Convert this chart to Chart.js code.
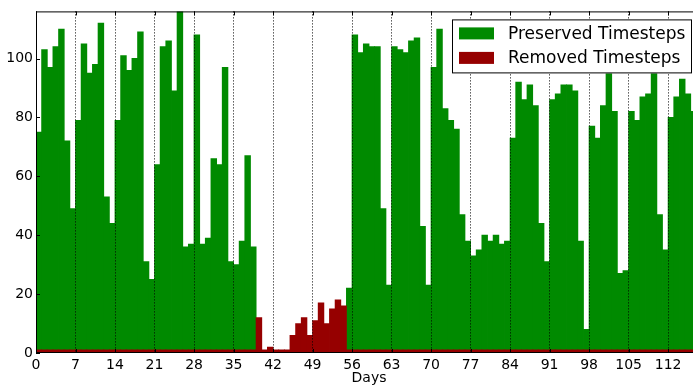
<!DOCTYPE html>
<html>
<head>
<meta charset="utf-8">
<script src="https://cdn.jsdelivr.net/npm/chart.js@4.4.0/dist/chart.umd.min.js"></script>
<style>
  html, body { margin: 0; padding: 0; background: #fff; overflow: hidden; }
  #wrap { width: 702px; height: 388px; }
</style>
</head>
<body>
<div id="wrap"><canvas id="days-chart" width="702" height="388"></canvas></div>
<script>
// Timesteps per day, index = day number
const preserved = [
  75, 103, 97, 104, 110, 72, 49, 79, 105, 95,
  98, 112, 53, 44, 79, 101, 96, 100, 109, 31,
  25, 64, 104, 106, 89, 118, 36, 37, 108, 37,
  39, 66, 64, 97, 31, 30, 38, 67, 36, 0,
  0, 0, 0, 0, 0, 0, 0, 0, 0, 0,
  0, 0, 0, 0, 0, 22, 108, 102, 105, 104,
  104, 49, 23, 104, 103, 102, 106, 107, 43, 23,
  97, 110, 83, 79, 76, 47, 38, 33, 35, 40,
  38, 40, 37, 38, 73, 92, 86, 91, 84, 44,
  31, 86, 88, 91, 91, 89, 38, 8, 77, 73,
  84, 96, 82, 27, 28, 82, 79, 87, 88, 96,
  47, 35, 80, 87, 93, 88, 82
];
const removed = [
  0, 0, 0, 0, 0, 0, 0, 0, 0, 0,
  0, 0, 0, 0, 0, 0, 0, 0, 0, 0,
  0, 0, 0, 0, 0, 0, 0, 0, 0, 0,
  0, 0, 0, 0, 0, 0, 0, 0, 0, 12,
  0, 2, 0, 0, 0, 6, 10, 12, 6, 11,
  17, 10, 15, 18, 16, 0, 0, 0, 0, 0,
  0, 0, 0, 0, 0, 0, 0, 0, 0, 0,
  0, 0, 0, 0, 0, 0, 0, 0, 0, 0,
  0, 0, 0, 0, 0, 0, 0, 0, 0, 0,
  0, 0, 0, 0, 0, 0, 0, 0, 0, 0,
  0, 0, 0, 0, 0, 0, 0, 0, 0, 0,
  0, 0, 0, 0, 0, 0, 0
];
const xTicks = [0, 7, 14, 21, 28, 35, 42, 49, 56, 63, 70, 77, 84, 91, 98, 105, 112];
const yTicks = [0, 20, 40, 60, 80, 100];

const FONT = 'DejaVu Sans';

// each day's bar covers [day, day + 1]
const toPoints = arr => arr.map((v, i) => ({ x: i + 0.5, y: v }));

// frame, inward ticks and the legend box inside the plot
const framePlugin = {
  id: 'frame',
  afterDraw(chart) {
    const { ctx, chartArea: a, scales: { x, y } } = chart;
    ctx.save();
    ctx.strokeStyle = '#000';
    ctx.lineWidth = 1;
    ctx.strokeRect(a.left + 0.5, a.top + 0.5, a.right - a.left - 1, a.bottom - a.top - 1);

    ctx.beginPath();
    x.ticks.forEach(t => {
      const px = Math.round(x.getPixelForValue(t.value)) + 0.5;
      ctx.moveTo(px, a.bottom); ctx.lineTo(px, a.bottom - 4);
      ctx.moveTo(px, a.top); ctx.lineTo(px, a.top + 4);
    });
    y.ticks.forEach(t => {
      const py = Math.round(y.getPixelForValue(t.value)) + 0.5;
      ctx.moveTo(a.left, py); ctx.lineTo(a.left + 4, py);
    });
    ctx.stroke();

    // legend
    const lx = 452, ly = a.top + 8, lw = 240, lh = 54;
    ctx.fillStyle = '#fff';
    ctx.fillRect(lx, ly, lw, lh);
    ctx.strokeRect(lx + 0.5, ly + 0.5, lw - 1, lh - 1);
    const items = [chart.data.datasets[0], chart.data.datasets[1]];
    ctx.font = '17px "' + FONT + '"';
    ctx.textBaseline = 'middle';
    items.forEach((ds, i) => {
      const cy = ly + 14 + i * 24.5;
      ctx.fillStyle = ds.backgroundColor;
      ctx.fillRect(lx + 7, cy - 6, 35, 12);
      ctx.fillStyle = '#000';
      ctx.fillText(ds.label, lx + 56, cy + 1);
    });
    ctx.restore();
  }
};

const ctx = document.getElementById('days-chart').getContext('2d');
const chart = new Chart(ctx, {
  type: 'bar',
  data: {
    datasets: [
      {
        label: 'Preserved Timesteps',
        data: toPoints(preserved),
        backgroundColor: '#008a00',
        borderWidth: 0,
        inflateAmount: 0.4,
        order: 1
      },
      {
        label: 'Removed Timesteps',
        data: toPoints(removed),
        backgroundColor: '#960000',
        borderWidth: 0,
        inflateAmount: 0.4,
        minBarLength: 3,
        order: 0
      }
    ]
  },
  options: {
    responsive: false,
    animation: false,
    events: [],
    grouped: false,
    barPercentage: 1,
    categoryPercentage: 1,
    layout: { padding: { top: 11, left: 0, right: 0, bottom: 0 } },
    plugins: {
      legend: { display: false },
      tooltip: { enabled: false }
    },
    scales: {
      x: {
        type: 'linear',
        offset: false,
        min: 0,
        max: 118,
        afterBuildTicks: s => { s.ticks = xTicks.map(v => ({ value: v })); },
        afterFit: s => { s.height = 35; },
        grid: { color: '#000', lineWidth: 1, drawTicks: false, offset: false, z: 1, borderDash: [1, 2] },
        border: { display: false, dash: [1, 2] },
        ticks: {
          padding: 4,
          color: '#000',
          autoSkip: false,
          maxRotation: 0,
          font: { family: FONT, size: 14 }
        },
        title: {
          display: true,
          text: 'Days',
          color: '#000',
          font: { family: FONT, size: 14 },
          padding: { top: 0, bottom: 1 }
        }
      },
      y: {
        min: 0,
        max: 116,
        afterBuildTicks: s => { s.ticks = yTicks.map(v => ({ value: v })); },
        afterFit: s => { s.width = 36; },
        grid: { display: false, drawTicks: false },
        border: { display: false },
        ticks: {
          padding: 3,
          color: '#000',
          font: { family: FONT, size: 14 }
        }
      }
    }
  },
  plugins: [framePlugin]
});
</script>
</body>
</html>
